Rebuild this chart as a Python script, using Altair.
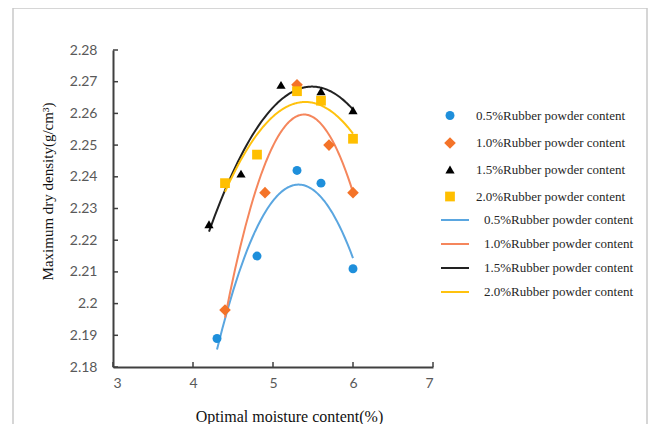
import altair as alt
import pandas as pd

labels = ["0.5%Rubber powder content", "1.0%Rubber powder content",
          "1.5%Rubber powder content", "2.0%Rubber powder content"]
x05 = [4.3, 4.8, 5.3, 5.6, 6.0]
y05 = [2.189, 2.215, 2.242, 2.238, 2.211]
x10 = [4.4, 4.9, 5.3, 5.7, 6.0]
y10 = [2.198, 2.235, 2.269, 2.250, 2.235]
x15 = [4.2, 4.6, 5.1, 5.6, 6.0]
y15 = [2.225, 2.241, 2.269, 2.267, 2.261]
x20 = [4.4, 4.8, 5.3, 5.6, 6.0]
y20 = [2.238, 2.247, 2.267, 2.264, 2.252]
x_ticks = [3, 4, 5, 6, 7]
y_ticks = [2.18, 2.19, 2.20, 2.21, 2.22, 2.23, 2.24, 2.25, 2.26, 2.27, 2.28]

pt_colors = ["#1E8FDB", "#F47328", "#000000", "#FFBF00"]
ln_colors = ["#5AA6E0", "#F5865C", "#222222", "#FFC20E"]
shapes = ["circle", "diamond", "triangle-up", "square"]
sizes = [80, 135, 85, 95]

rows = []
for lab, xs, ys in zip(labels, [x05, x10, x15, x20], [y05, y10, y15, y20]):
    for a, b in zip(xs, ys):
        rows.append({"series": lab, "x": a, "y": b})
df = pd.DataFrame(rows)

W, H = 320, 317
TICK = 5
xscale = alt.Scale(domain=[3, 7], nice=False, zero=False)
yscale = alt.Scale(domain=[2.18, 2.28], nice=False, zero=False)

x_axis = alt.Axis(values=x_ticks, ticks=False, tickSize=0, grid=False,
                  labelPadding=9, domainColor="#404040", domainWidth=2,
                  title="Optimal moisture content(%)", titleFontSize=16,
                  titleX=176, titleY=49, titleBaseline="middle")
y_axis = alt.Axis(values=y_ticks, ticks=False, tickSize=0, grid=False,
                  labelPadding=16, domainColor="#404040", domainWidth=2,
                  labelExpr="format(datum.value, '.2~f')",
                  title="Maximum dry density(g/cm³)",
                  titleX=-66, titleY=141, titleBaseline="middle")

base = alt.Chart(df)

pt_legend = alt.Legend(orient="none", legendX=330, legendY=59, title=None,
                       labelOffset=19, rowPadding=13,
                       labelFont="Liberation Serif", labelFontSize=13,
                       labelColor="#262626", padding=0)

points = base.mark_point(filled=True, opacity=1).encode(
    x=alt.X("x:Q", scale=xscale, axis=x_axis),
    y=alt.Y("y:Q", scale=yscale, axis=y_axis),
    color=alt.Color("series:N", scale=alt.Scale(domain=labels, range=pt_colors), legend=pt_legend),
    shape=alt.Shape("series:N", scale=alt.Scale(domain=labels, range=shapes), legend=pt_legend),
    size=alt.Size("series:N", scale=alt.Scale(type="ordinal", domain=labels, range=sizes),
                  legend=pt_legend),
)

lines = base.transform_regression(
    "x", "y", method="poly", order=2, groupby=["series"]
).mark_line(strokeWidth=2).encode(
    x=alt.X("x:Q", scale=xscale, axis=x_axis),
    y=alt.Y("y:Q", scale=yscale, axis=y_axis),
    color=alt.Color("series:N", scale=alt.Scale(domain=labels, range=ln_colors),
                    legend=alt.Legend(orient="none", legendX=327, legendY=155, title=None,
                                      symbolType="stroke", symbolSize=784,
                                      symbolStrokeWidth=2, labelOffset=14, rowPadding=2,
                                      labelFont="Liberation Serif", labelFontSize=13,
                                      labelColor="#262626", padding=0)),
)

# inward tick marks, placed at the tick values through the shared scales
xt = alt.Chart(pd.DataFrame({"t": x_ticks})).mark_rule(color="#404040", strokeWidth=1.5).encode(
    x=alt.X("t:Q", scale=xscale, axis=x_axis), y=alt.value(H), y2=alt.value(H - TICK))
yt = alt.Chart(pd.DataFrame({"t": y_ticks})).mark_rule(color="#404040", strokeWidth=1.5).encode(
    y=alt.Y("t:Q", scale=yscale, axis=y_axis), x=alt.value(0), x2=alt.value(TICK))

one = alt.Chart(pd.DataFrame({"k": [0]}))
frame_left = one.mark_rule(color="#c8c8c8", strokeWidth=1.5).encode(
    x=alt.value(-100), y=alt.value(-42), y2=alt.value(380))
frame_top = one.mark_rule(color="#c8c8c8", strokeWidth=1.5).encode(
    x=alt.value(-100), x2=alt.value(534), y=alt.value(-42))
frame_right = one.mark_rule(color="#c8c8c8", strokeWidth=1.5).encode(
    x=alt.value(534), y=alt.value(-42), y2=alt.value(380))

chart = alt.layer(
    frame_left, frame_top, frame_right, xt, yt, lines, points
).resolve_scale(
    color="independent", shape="independent", size="independent"
).properties(
    width=W, height=H,
    padding={"left": 105, "top": 42, "right": 215, "bottom": 57},
    autosize=alt.AutoSizeParams(type="none"),
).configure_view(
    stroke="transparent"
).configure_axis(
    labelFont="Lato", labelFontSize=14, labelColor="#595959",
    titleFont="Liberation Serif", titleFontSize=15, titleFontWeight="normal",
    titleColor="#111111",
)

chart.save("out.html", embed_options={"renderer": "svg", "actions": False})
